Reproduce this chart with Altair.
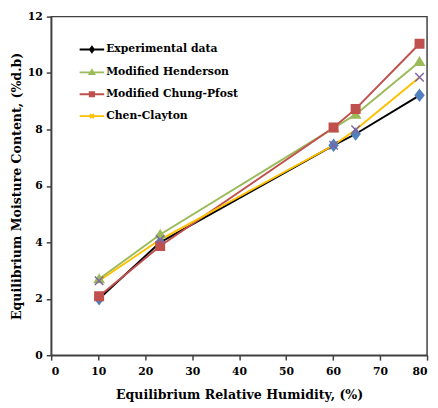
import altair as alt
import pandas as pd

rh = [10.2, 23.2, 60.1, 64.8, 78.4]
experimental = [2.0, 4.0, 7.44, 7.84, 9.21]
henderson = [2.7, 4.28, 8.05, 8.53, 10.4]
chung = [2.09, 3.87, 8.07, 8.73, 11.04]
chen = [2.64, 4.1, 7.44, 7.99, 9.85]

series_names = ["Experimental data", "Modified Henderson", "Modified Chung-Pfost", "Chen-Clayton"]
line_colors = ["#000000", "#9BBB59", "#C0504D", "#FFC000"]
marker_colors = ["#4F81BD", "#9BBB59", "#C0504D", "#8064A2"]

marker_paths = [
    "M0,-1.3L1,0L0,1.3L-1,0Z",
    "M0,-1L1.1,0.8L-1.1,0.8Z",
    "M-1,-1H1V1H-1Z",
    "M-1,-1L1,1M1,-1L-1,1",
]
legend_paths = [
    "M-1,0H1M0,-0.22L0.16,0L0,0.22L-0.16,0Z",
    "M-1,0H1M0,-0.18L0.19,0.14L-0.19,0.14Z",
    "M-1,0H1M-0.17,-0.17H0.17V0.17H-0.17Z",
    "M-1,0H1M-0.16,-0.16L0.16,0.16M0.16,-0.16L-0.16,0.16",
]

rows = []
for name, vals in zip(series_names, [experimental, henderson, chung, chen]):
    for x, y in zip(rh, vals):
        rows.append({"series": name, "rh": x, "emc": y, "order": series_names.index(name)})
df = pd.DataFrame(rows)

FONT = "DejaVu Serif"

x_enc = alt.X("rh:Q", scale=alt.Scale(domain=[0, 80], nice=False),
              axis=alt.Axis(values=list(range(0, 81, 10)), title="Equilibrium Relative Humidity, (%)"))
y_enc = alt.Y("emc:Q", scale=alt.Scale(domain=[0, 12], nice=False),
              axis=alt.Axis(values=list(range(0, 13, 2)), title="Equilibrium Moisture Content, (%d.b)"))

lines = alt.Chart(df).mark_line(strokeWidth=2).encode(
    x=x_enc, y=y_enc,
    stroke=alt.Stroke("series:N", scale=alt.Scale(domain=series_names, range=line_colors), legend=None),
    detail="series:N", order="order:Q"
)

points = alt.Chart(df).mark_point(filled=True, size=75, strokeWidth=1.5, opacity=1).encode(
    x=x_enc, y=y_enc,
    fill=alt.Fill("series:N", scale=alt.Scale(domain=series_names, range=marker_colors), legend=None),
    shape=alt.Shape("series:N", scale=alt.Scale(domain=series_names, range=marker_paths), legend=None),
    stroke=alt.Stroke("series:N", scale=alt.Scale(domain=series_names, range=marker_colors), legend=None),
    order="order:Q",
)

leg = alt.Legend(title=None, orient="none", legendX=28, legendY=20,
                 labelFont=FONT, labelFontSize=11, labelFontWeight="bold",
                 labelColor="#000000", symbolSize=625, symbolStrokeWidth=2,
                 symbolOpacity=1, rowPadding=2.3, labelOffset=1, padding=0)

legend_layer = alt.Chart(df).transform_filter("false").mark_point(size=625, strokeWidth=2).encode(
    shape=alt.Shape("series:N", scale=alt.Scale(domain=series_names, range=legend_paths), legend=leg),
    stroke=alt.Stroke("series:N", scale=alt.Scale(domain=series_names, range=line_colors), legend=leg),
    fill=alt.Fill("series:N", scale=alt.Scale(domain=series_names, range=marker_colors), legend=leg),
)

chart = alt.layer(lines, points, legend_layer).resolve_scale(
    shape="independent", stroke="independent", fill="independent", color="independent"
).properties(
    width=383, height=345,
    autosize=alt.AutoSizeParams(type="none"),
    padding={"left": 44, "top": 5, "right": 3, "bottom": 50},
).configure_view(
    stroke="#404040", strokeWidth=1.5
).configure_axis(
    grid=False, domainColor="#404040", domainWidth=1.5, tickColor="#404040", tickWidth=1.5,
    tickSize=5, labelFont=FONT, labelFontSize=11, labelFontWeight="bold", labelColor="#000000",
    titleFont=FONT, titleFontSize=12.8, titleFontWeight="bold", titleColor="#000000",
).configure_axisX(labelPadding=6, titlePadding=12).configure_axisY(labelPadding=4, titlePadding=4)

chart.save("out.html", embed_options={"renderer": "svg", "actions": False})
